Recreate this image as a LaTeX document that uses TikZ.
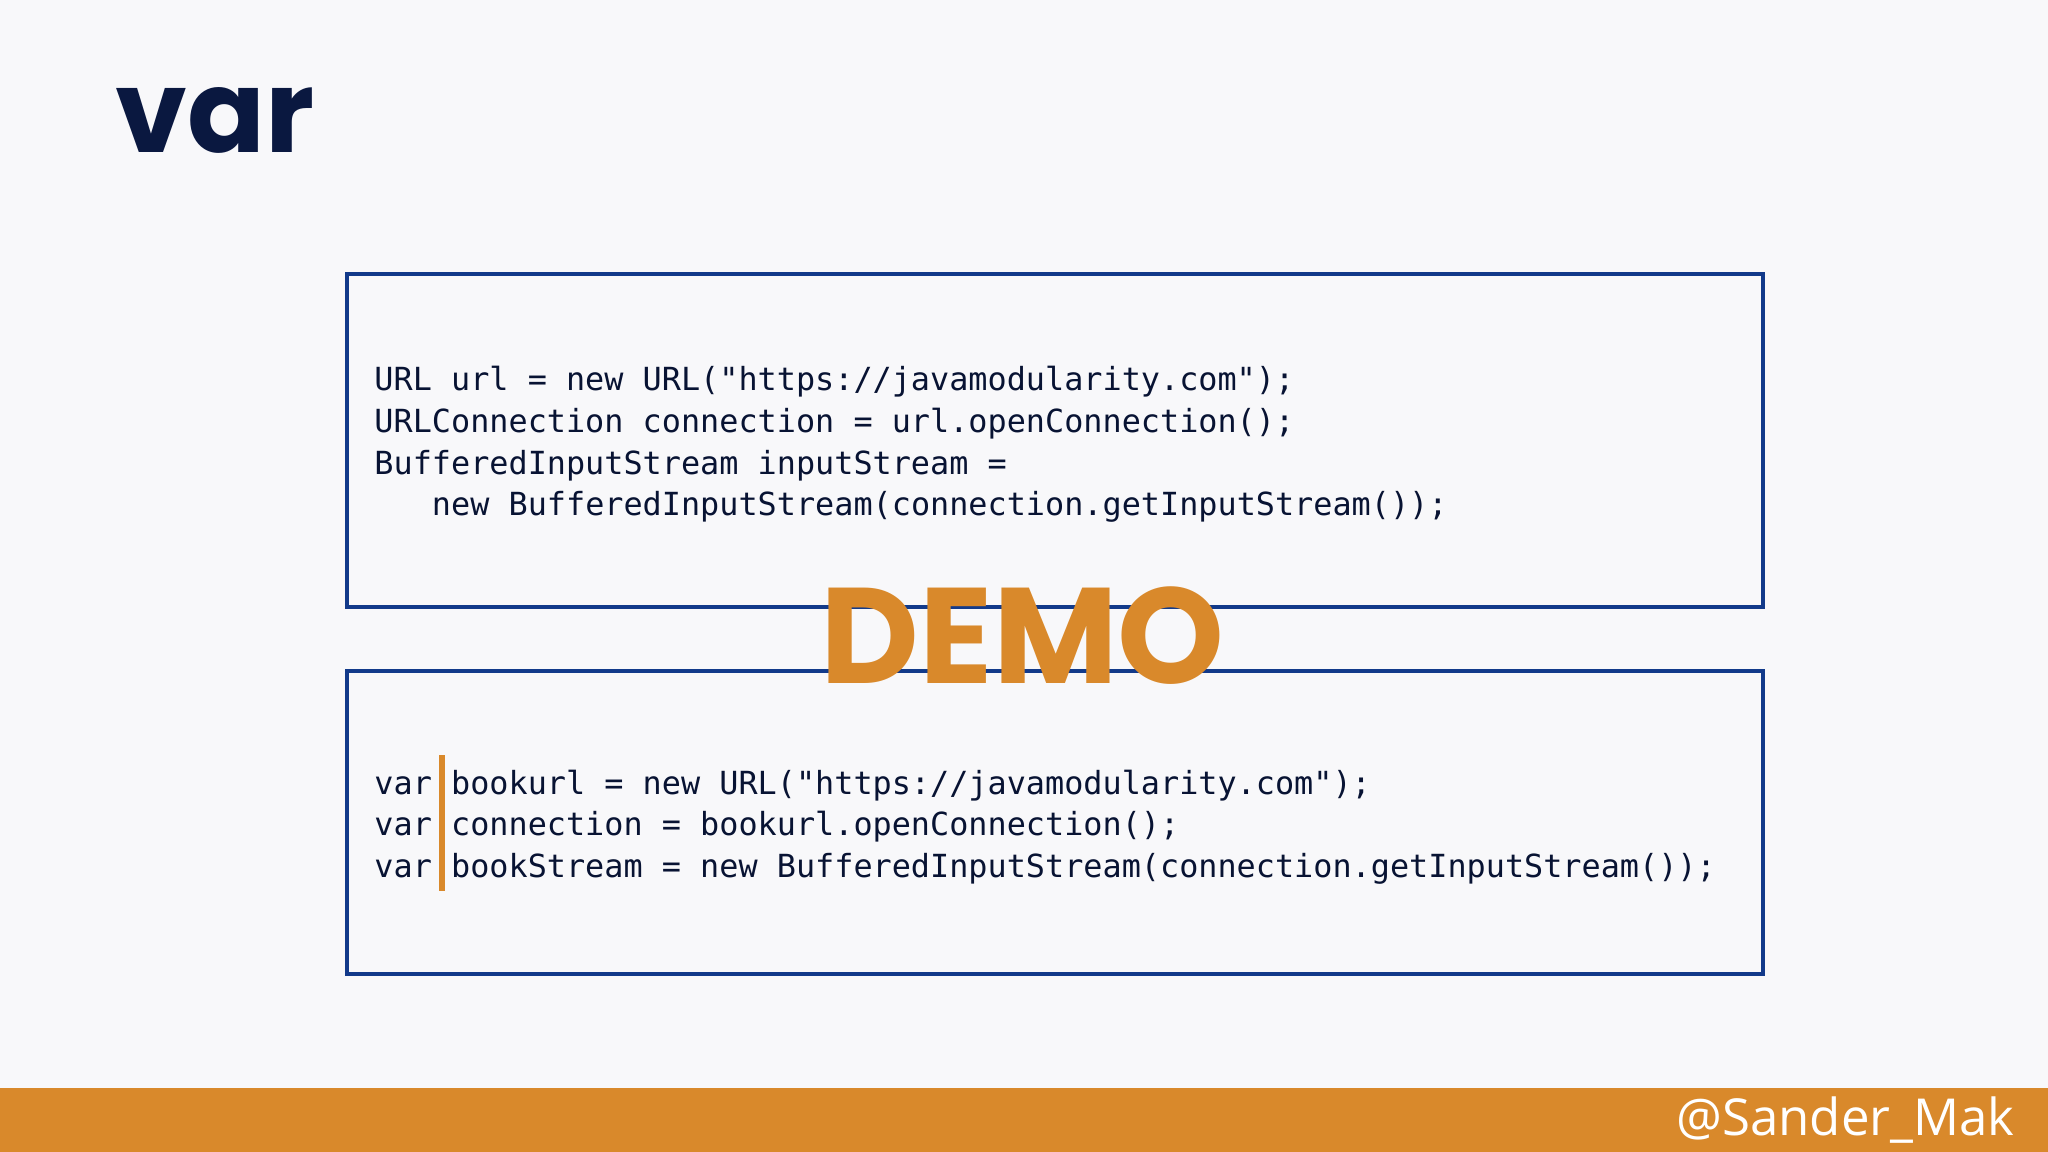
\documentclass[tikz,border=0pt]{standalone}
\usepackage{fontspec}
\setmainfont{Poppins}
\newfontfamily\codefont{DejaVu Sans Mono}
\newfontfamily\tagfont{Open Sans}
\definecolor{bg}{HTML}{F8F8FA}
\definecolor{navy}{HTML}{0A1840}
\definecolor{boxblue}{HTML}{123A8A}
\definecolor{orng}{HTML}{D9892B}
\begin{document}
\begin{tikzpicture}[x=0.01cm,y=-0.01cm,
  code/.style={anchor=base west,inner sep=0pt,font=\codefont\fontsize{6.93pt}{9pt}\selectfont,text=navy!80!black},
  frame/.style={draw=boxblue,line width=0.9pt}]
\fill[bg] (0,0) rectangle (1568,882);
\useasboundingbox (0,0) rectangle (1568,882);
\node[anchor=base west,inner sep=0pt,font=\fontsize{25pt}{30pt}\selectfont\bfseries,text=navy] (title) at (88,117) {var};
\draw[frame] (266,210) rectangle (1350,465);
\draw[frame] (266,514) rectangle (1350,746);
\node[code] (a1) at (286,299) {URL url = new URL("https://javamodularity.com");};
\node[code] (a2) at (286,331) {URLConnection connection = url.openConnection();};
\node[code] (a3) at (286,363) {BufferedInputStream inputStream =};
\node[code] (a4) at (286,395) {\ \ \ new BufferedInputStream(connection.getInputStream());};
\node[code] (b1) at (286,608) {var bookurl = new URL("https://javamodularity.com");};
\node[code] (b2) at (286,640) {var connection = bookurl.openConnection();};
\node[code] (b3) at (286,672) {var bookStream = new BufferedInputStream(connection.getInputStream());};
\fill[orng] (336,578) rectangle (341,682);
\node[anchor=base,inner sep=0pt,font=\fontsize{29.6pt}{32pt}\selectfont\bfseries,text=orng] (demo) at (783,523) {DEMO};
\fill[orng] (0,833) rectangle (1568,882);
\node[anchor=base east,inner sep=0pt,font=\tagfont\fontsize{11.1pt}{13pt}\selectfont,text=white] (tag) at (1543,869) {@Sander\_Mak};
\end{tikzpicture}
\end{document}
